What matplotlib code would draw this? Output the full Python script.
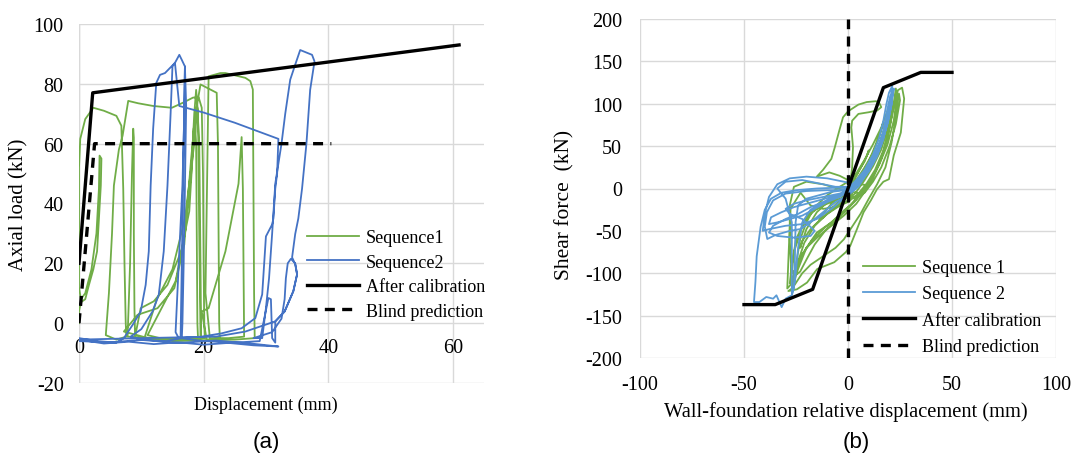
import matplotlib
matplotlib.use("Agg")
import matplotlib.pyplot as plt
import numpy as np

plt.rcParams["font.family"] = ["Liberation Serif", "DejaVu Serif"]
plt.rcParams["axes.unicode_minus"] = False

# ---------------- data: panel (a) ----------------
seq1_a_x = [0, 0, 0.3, 1.0, 1.6, 2.3, 2.9, 3.2, 3.5, 3.6, 3.3, 3.2, 2.8, 2.0, 1.0, 0.3, 0, 0, 0, 0.2, 1.0, 2.3, 4.0, 6.0, 6.8, 7.1, 7.3, 7.5, 7.6,
            6.0, 4.3, 4.8, 5.3, 5.6, 6.4, 7.0, 7.9, 9.5, 11.9, 14.9, 16.7, 18.3, 19.2, 19.7, 19.9, 20.0, 20.1, 20.2,
            17.0, 12.0, 7.8, 8.2, 8.5, 8.7, 8.8, 8.8, 8.9, 9.0,
            9.9, 12.0, 14.2, 16.4, 17.7, 18.2, 18.4, 18.6, 18.8, 18.9, 19.0, 19.1,
            12.0, 7.2, 9.4, 12.6, 15.3, 16.9, 17.4, 18.0, 18.7, 19.2, 19.5, 21.1, 22.1, 22.3, 22.4, 22.5, 22.6,
            20.5, 19.7, 20.8, 23.5, 25.6, 26.1, 26.3, 26.4, 26.5,
            24.0, 21.0, 20.3, 20.5, 20.7, 20.8, 22.7, 23.5, 26.7, 27.5, 27.9, 28.0, 28.1, 28.2,
            25.0, 15.0, 10.5, 12.5, 15.0, 17.0, 18.5, 19.0, 19.3, 19.5, 19.6, 20.0,
            14.0, 11.0, 13.0, 15.5, 17.0, 18.0, 18.5, 18.8, 19.1, 19.3, 19.5]
seq1_a_y = [0, 4, 7, 8, 12.8, 18, 24, 35, 46, 55, 56, 45, 30, 18, 10, 8, 12, 30, 52, 61.6, 68.2, 72, 71, 69.3, 66, 45, 20, 0, -4.5,
            -5.5, -4, 10, 30, 46, 58, 62.7, 74.3, 73.5, 72.6, 72, 73.7, 75.4, 75.5, 72, 50, 20, 0, -5,
            -5.5, -5, -4.5, 20, 50, 65, 62, 30, 5, -4.5,
            5, 7.3, 12.8, 24, 37.4, 55, 65, 67, 60, 30, 0, -5,
            -5.5, -2.8, 2.8, 5, 11.7, 26.3, 39.7, 55, 70, 76, 79.8, 78.1, 77, 60, 30, 0, -5,
            -5.5, 3.9, 5, 24, 46.6, 62.2, 45, 20, -4.5,
            -5, -5, 10, 40, 70, 82.5, 83.6, 83.6, 82, 80.9, 78.1, 45, 10, -5,
            -5.5, -6, -5, 8, 18, 35, 60, 72, 60, 20, -5, -5,
            -5.5, -4, 4, 14, 30, 50, 70, 78, 70, 30, -4]

seq2_a_x = [0, 3, 6, 7.2, 8.6, 9.9, 10.7, 11.2, 11.5, 11.9, 12.4, 13.0, 13.8, 14.6, 15.4, 16.1, 16.5, 17.0, 17.2, 17.0, 16.8, 16.6, 16.5,
            14.0, 10.0, 8.3, 10.0, 11.8, 12.8, 13.6, 14.2, 14.7, 15.0, 15.4, 16.1, 20.0, 25.0, 32.0,
            31.8, 31.5, 31.2, 31.0, 30.2, 30.0, 29.4, 28.3, 26.1, 22.9, 19.7, 16.0, 15.5, 16.1, 16.6, 16.9, 17.0,
            16.8, 16.5, 16.3, 20.0, 25.0, 29.0, 30.4, 30.8, 31.0, 31.5,
            31.5, 33.0, 34.4, 35.0, 34.7, 34.0, 33.5, 33.2, 33.0, 32.5, 31.0, 28.0,
            29.4, 30.0, 30.5, 31.0, 31.5, 32.5, 33.1, 33.9, 34.7, 35.5, 37.4, 37.8, 37.1, 36.5, 35.8, 35.2, 34.7, 34.2,
            34.7, 35.0, 34.4, 33.0, 31.5, 26.7, 22.0, 10.0, 0,
            4, 8, 12, 16, 20, 24, 28, 32, 28, 22, 16, 10, 5, 0]
seq2_a_y = [-5, -6, -6.5, -5, -0.6, 3.9, 12.8, 24, 46, 65, 80.3, 83, 83.6, 85.3, 87, 89.7, 88, 85.8, 72.6, 45, 20, 0, -5,
            -6, -5.5, -4.5, -2, 3.9, 9.5, 24, 46, 70, 85.8, 87, 72.6, 70.4, 67, 61.6,
            50, 45, 35, 33, 29.8, 29, 9.6, 1.7, -1.7, -3.4, -4.5, -5, -3, 24, 46, 70, 85.8,
            60, 20, -5, -6, -6.5, -6, 8.4, 8, -5, -6.5,
            0.6, 3.9, 10.7, 16.3, 20, 21.5, 20, 15, 8, 1.5, -3, -5,
            -5, 5, 15, 30, 46.6, 60, 70, 81.4, 86.4, 91.3, 89.7, 87.5, 78, 60, 45, 35, 29.8, 22,
            19.7, 16.3, 10.7, 3.9, 0.6, -2.8, -4.5, -5, -5.5,
            -6.8, -6.2, -7, -6.4, -7.2, -6.6, -7.4, -7.8, -6.9, -5.8, -6.6, -5.6, -6.4, -6]

calib_a_x = [0, 2.2, 61]
calib_a_y = [20, 77, 93]
blind_a_x = [0, 2.5, 40.5]
blind_a_y = [0, 60, 60]

# ---------------- data: panel (b) ----------------
seq1_b_x = [0, 2, 5, 8, 10, 9, 6, 3, 0, -4, -8, -12, -14, -12, -8, -4, 0,
            4, 8, 12, 15, 17, 16, 13, 10, 6, 2, -3, -9, -15, -20, -23, -22, -18, -13, -7, -2, 2,
            0, -4, -9, -15, -12, -8, -6.3, -4, -2.4, 0, 5, 9, 13.5, 15, 16, 14, 10, 5, 2, 1.6, 2.4, 2, 1, -3,
            -8, -14, -20, -25, -27, -28, -26, -24, -20, -14, -8, -2, 4, 8, 12, 16, 19, 21, 22.5, 23, 23.5, 22, 19, 15, 11, 7, 3,
            -2, -8, -15, -20, -24, -27, -28.7, -24.6, -19.7, -14.8, -6.6, -1, 1.1, 4.3, 7.5, 11, 13.9, 17, 19.7, 22, 25.4, 27, 26,
            24, 22, 20, 17, 13, 9, 5, 0, -6, -12, -18, -22.8, -24.6, -27.6, -28.4, -29.2, -27, -25, -23, -20, -16, -10, -4, 0,
            4, 8, 12, 16, 19, 20.5, 21, 19, 16, 12, 8, 4, 0, -5, -10, -16, -21, -24, -25, -23, -20, -16, -11, -6, 0, 5, 9,
            6, 10, 14, 17, 19.5, 21, 20, 17, 13, 9, 5, 0, -6, -12, -18, -22, -26, -27, -25, -22, -17, -11, -5, 1, 6,
            -5, -12, -20, -26, -28, -28, -27, -26, -22, -18, -12, -6, -2, 2, 6, 10, 14, 18, 21, 23, 24.5, 25, 23, 20, 16, 12, 8, 3, 0]
seq1_b_y = [0, 8, 20, 32, 45, 38, 24, 10, 0, -8, -18, -30, -38, -34, -24, -14, -4,
            10, 25, 42, 60, 78, 70, 50, 32, 14, 2, -6, -14, -28, -48, -70, -62, -48, -36, -24, -14, -6,
            10, 15, 19, 14, 22, 35, 49, 70, 84, 91, 99, 102, 103, 101, 96, 92, 90, 88, 80, 72, 49, 25, 5, -8,
            -14, -22, -34, -60, -90, -112, -104, -86, -70, -56, -44, -32, -18, -4, 12, 35, 60, 85, 110, 118, 108, 80, 52, 28, 10, -4, -16,
            -26, -40, -52, -70, -95, -118, -121, -119, -111, -95, -87, -75, -67.5, -48, -28, -14, -1, 8, 11, 39, 66, 106, 119,
            116, 96, 72, 45, 22, 6, -6, -16, -22, -24, -20, -5, -12, -24, -68, -118, -112, -90, -60, -40, -22, -8, 2, 8,
            18, 34, 52, 72, 92, 105, 95, 70, 46, 26, 10, -4, -14, -22, -30, -44, -64, -86, -102, -98, -84, -66, -50, -38, -24, -10, 4,
            5, 20, 40, 62, 85, 100, 88, 64, 40, 20, 4, -8, -14, -20, -28, -45, -75, -100, -95, -78, -60, -46, -34, -20, -6,
            0, 5, 8, 2, -20, -60, -110, -115, -100, -90, -80, -70, -60, -45, -30, -12, 5, 25, 55, 85, 112, 104, 76, 50, 25, 8, -5, -12, -5]

seq2_b_x = [0, 4, 8, 12, 15, 17, 18.5, 19.7, 21.3, 20.5, 19, 17, 14, 11, 8, 4, 0, -10, -20, -30, -36, -39, -40, -38.8, -35, -28, -22.8, -18, -12, -6, 0, 5,
            9, 13, 16, 18, 19.5, 20.5, 21, 19.5, 17, 14, 10, 6, 2, -5, -15, -25, -32, -37, -40, -42, -43.9, -44.5, -45.2, -42.6, -39.3, -36, -34.4, -31.9, -30, -27, -26, -25.5, -25.2, -24, -20, -14, -8, -2, 3,
            8, 12, 15, 18, 20, 21, 20, 18, 15, 12, 8, 4, 0, -4, -10, -16, -22, -28, -34, -38, -37, -32, -26, -20, -14, -8, -2, 3,
            7, 11, 14, 17, 19, 20, 19, 16, 13, 10, 6, 2, -4, -12, -20, -26, -30, -28, -22, -16, -18, -26, -34, -38, -36, -30, -24, -18, -12, -6, 0,
            5, 10, 14, 17, 19.5, 22, 21, 19, 16, 12, 8, 3, -2, -10, -20, -28, -34, -38, -40, -41, -38, -30, -22, -15, -8, -2, 2,
            6, 12, 16, 19, 20.5, 19, 15, 11, 6, 1, -6, -14, -22, -30, -34, -30, -27, -27, -27, -25.5, -24, -22, -18, -10, -3, 0]
seq2_b_y = [0, 10, 22, 40, 60, 80, 100, 113, 121, 108, 88, 66, 46, 30, 16, 4, -2, -2, -3, -6, -14, -28, -45, -59.6, -55, -50, -47.8, -40, -28, -16, -8, 2,
            18, 36, 58, 80, 100, 110, 100, 82, 60, 40, 22, 8, 0, 1, 0, -2, -5, -12, -25, -45, -80, -110, -134, -134, -128, -130, -126, -140, -130, -126, -118, -80, -40, -20, -12, -8, -4, -2, 4,
            14, 30, 48, 70, 92, 105, 92, 72, 50, 32, 18, 6, -4, -10, -16, -24, -32, -36, -40, -42, -34, -28, -22, -18, -14, -10, -6, 2,
            12, 26, 42, 62, 84, 96, 80, 58, 40, 26, 12, 0, -6, -10, -14, -18, -24, -30, -36, -50, -56, -58, -56, -52, -44, -36, -30, -22, -16, -10, -4,
            5, 20, 38, 58, 85, 118, 100, 76, 52, 32, 16, 5, 8, 12, 14, 12, 5, -10, -30, -50, -48, -44, -42, -36, -24, -12, -2,
            10, 30, 55, 82, 100, 78, 52, 30, 12, 2, 2, 6, 10, 8, 0, -12, -40, -80, -124, -110, -70, -40, -25, -14, -6, 0]

calib_b_x = [-50, -35, -17, 17, 35, 50]
calib_b_y = [-137, -137, -119, 119, 137, 137]
blind_b_x = [0, 0]
blind_b_y = [-200, 200]

labels_a = ["Sequence1", "Sequence2", "After calibration", "Blind prediction"]
labels_b = ["Sequence 1", "Sequence 2", "After calibration", "Blind prediction"]

GREEN = "#70AD47"
BLUE_A = "#4472C4"
BLUE_B = "#5B9BD5"
GRID = "#d9d9d9"
SERIF = "Liberation Serif"

W, H = 1076, 456
fig = plt.figure(figsize=(W / 100, H / 100), dpi=100)


def px_axes(x0, y0, x1, y1):
    return fig.add_axes([x0 / W, 1 - y1 / H, (x1 - x0) / W, (y1 - y0) / H])


def style(ax, size):
    for s in ax.spines.values():
        s.set_visible(False)
    ax.grid(True, color=GRID, lw=1.0)
    ax.set_axisbelow(True)
    ax.tick_params(length=0, labelsize=size)


# ---- panel (a)
axa = px_axes(79, 25, 484, 384)
axa.set_xlim(0, 65)
axa.set_ylim(-20, 100)
axa.set_xticks([0, 20, 40, 60])
axa.set_yticks(np.arange(-20, 101, 20))
ha, = axa.plot(seq1_a_x, seq1_a_y, color=GREEN, lw=1.3)
hb, = axa.plot(seq2_a_x, seq2_a_y, color=BLUE_A, lw=1.3)
hc, = axa.plot(calib_a_x, calib_a_y, color="black", lw=2.4)
hd, = axa.plot(blind_a_x, blind_a_y, color="black", lw=2.4, dashes=(3, 2.2))
style(axa, 14.5)
axa.spines["bottom"].set_position(("data", 0))
axa.tick_params(axis="x", pad=11)
axa.tick_params(axis="y", pad=11)
axa.plot([0, 0], [-20, 100], color=GRID, lw=1.0, zorder=0.5)
axa.legend([ha, hb, hc, hd], labels_a, loc="upper left",
           bbox_to_anchor=(307 / W, 1 - 230 / H), bbox_transform=fig.transFigure,
           frameon=False, borderpad=0, borderaxespad=0, handlelength=2.9,
           handletextpad=0.35, labelspacing=0.42, prop={"family": SERIF, "size": 13})

fig.text(19 / W, 1 - 205 / H, "Axial load (kN)", rotation=90, ha="center", va="center",
         family=SERIF, size=15)
fig.text(266 / W, 1 - 405 / H, "Displacement (mm)", ha="center", va="center",
         family=SERIF, size=13)
fig.text(266 / W, 1 - 443 / H, "(a)", ha="center", va="center",
         family="Liberation Sans", size=16)

# ---- panel (b)
axb = px_axes(640, 20, 1056, 359)
axb.set_xlim(-100, 100)
axb.set_ylim(-200, 200)
axb.set_xticks([-100, -50, 0, 50, 100])
axb.set_yticks(np.arange(-200, 201, 50))
ga, = axb.plot(seq1_b_x, seq1_b_y, color=GREEN, lw=1.3)
gb, = axb.plot(seq2_b_x, seq2_b_y, color=BLUE_B, lw=1.3)
gc, = axb.plot(calib_b_x, calib_b_y, color="black", lw=2.4)
gd, = axb.plot(blind_b_x, blind_b_y, color="black", lw=2.4, dashes=(3, 2.2))
style(axb, 14.5)
axb.tick_params(axis="x", pad=12)
axb.tick_params(axis="y", pad=13)
axb.legend([ga, gb, gc, gd], labels_b, loc="upper left",
           bbox_to_anchor=(863 / W, 1 - 260 / H), bbox_transform=fig.transFigure,
           frameon=False, borderpad=0, borderaxespad=0, handlelength=2.9,
           handletextpad=0.35, labelspacing=0.52, prop={"family": SERIF, "size": 13})

fig.text(565 / W, 1 - 205 / H, "Shear force  (kN)", rotation=90, ha="center", va="center",
         family=SERIF, size=15.5)
fig.text(846 / W, 1 - 412 / H, "Wall-foundation relative displacement (mm)", ha="center", va="center",
         family=SERIF, size=14.75)
fig.text(856 / W, 1 - 443 / H, "(b)", ha="center", va="center",
         family="Liberation Sans", size=16)

fig.savefig("out.png", dpi=100)
